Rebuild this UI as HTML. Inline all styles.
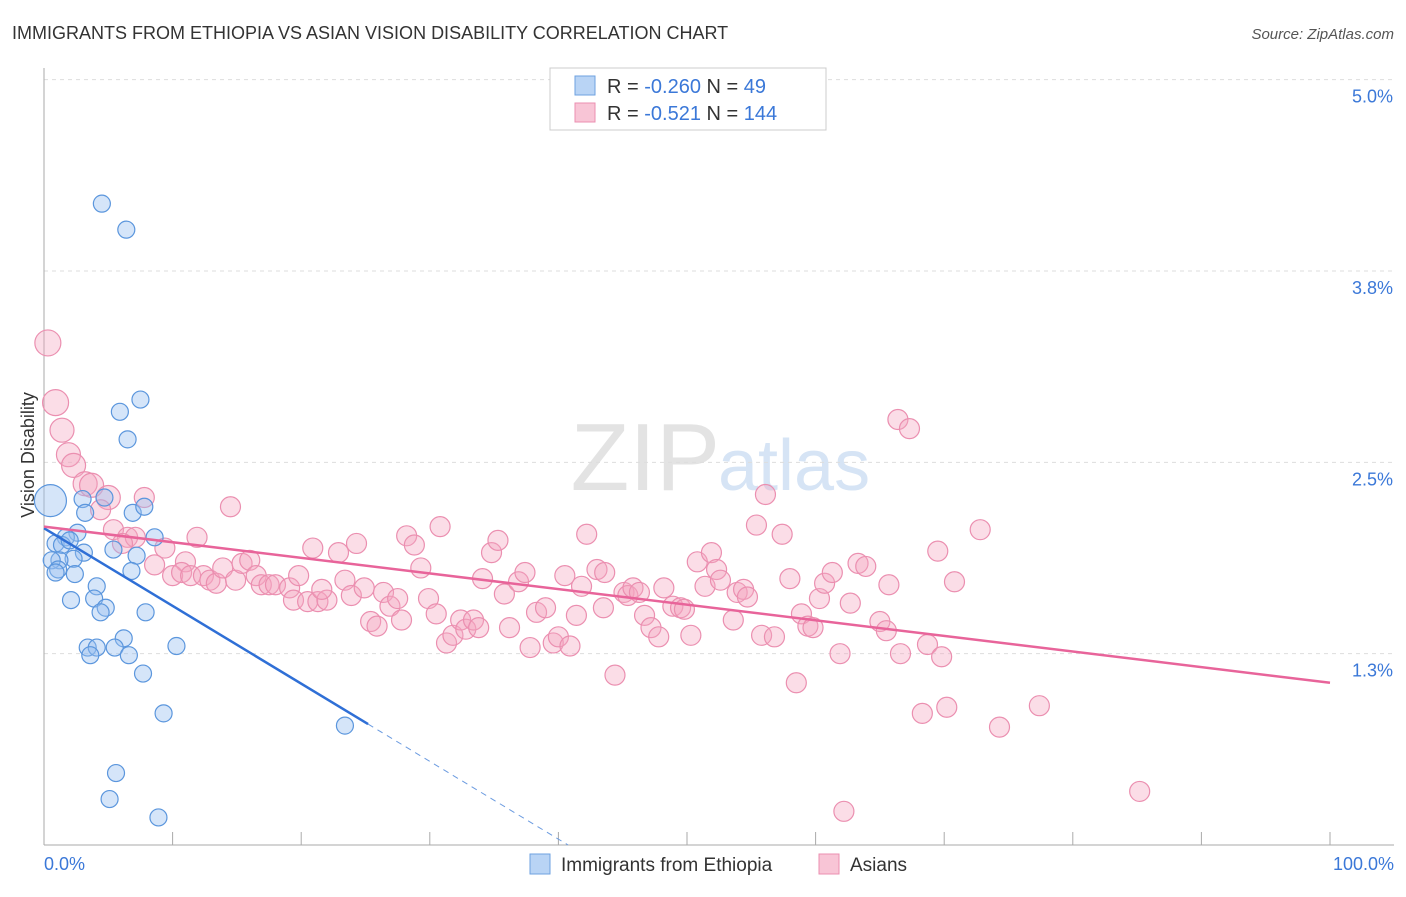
<!DOCTYPE html>
<html><head><meta charset="utf-8"><style>
body{margin:0;background:#fff;font-family:"Liberation Sans",sans-serif}
svg text{font-family:"Liberation Sans",sans-serif}
</style></head><body>
<svg id="c" width="1406" height="892" xmlns="http://www.w3.org/2000/svg">
<text x="12" y="39" font-size="18" fill="#333">IMMIGRANTS FROM ETHIOPIA VS ASIAN VISION DISABILITY CORRELATION CHART</text>
<text x="1394" y="39" font-size="15" fill="#555" font-style="italic" text-anchor="end">Source: ZipAtlas.com</text>
<text x="720" y="490" font-size="96" fill="#e3e3e3" text-anchor="end" font-family="Liberation Serif">ZIP</text>
<text x="718" y="490" font-size="72" fill="#d6e4f5">atlas</text>
<g id="grid"></g>
<g id="axes"></g>
<g id="pts"></g>
<g id="lines"></g>
<g>
<rect x="550" y="68" width="276" height="62" fill="#fff" stroke="#ccc"/>
<rect x="575" y="76" width="20" height="19" fill="#b9d4f5" stroke="#6ea2e0"/>
<rect x="575" y="103" width="20" height="19" fill="#f8c5d6" stroke="#eb8fb0"/>
<text x="607" y="93" font-size="20" fill="#333">R = <tspan fill="#3b78d8">-0.260</tspan>   N = <tspan fill="#3b78d8"> 49</tspan></text>
<text x="607" y="120" font-size="20" fill="#333">R =  <tspan fill="#3b78d8">-0.521</tspan>   N = <tspan fill="#3b78d8">144</tspan></text>
</g>
<g>
<rect x="530" y="854" width="20" height="20" fill="#b9d4f5" stroke="#6ea2e0"/>
<text x="561" y="871" font-size="19" fill="#333">Immigrants from Ethiopia</text>
<rect x="819" y="854" width="20" height="20" fill="#f8c5d6" stroke="#eb8fb0"/>
<text x="850" y="871" font-size="19" fill="#333">Asians</text>
</g>
<text transform="translate(34,455) rotate(-90)" font-size="18" fill="#333" text-anchor="middle">Vision Disability</text>
</svg>
<script>
const yTicks=[1.25,2.5,3.75,5.0];
const yTickLabels=["1.3%","2.5%","3.8%","5.0%"];
const xTickLabels=["0.0%","100.0%"];
const blueX=[4.5,6.4,7.5,5.9,6.5,0.5,3.0,4.7,3.2,6.9,7.8,2.6,1.7,0.9,1.4,2.0,8.6,5.4,3.1,7.2,2.3,1.2,0.6,1.1,0.9,2.4,6.8,4.1,2.1,3.9,4.8,4.4,7.9,6.2,3.4,4.1,5.5,3.6,6.6,10.3,7.7,9.3,23.4,5.6,5.1,8.9];
const blueY=[4.19,4.02,2.91,2.83,2.65,2.25,2.26,2.27,2.17,2.17,2.21,2.04,2.01,1.97,1.96,1.99,2.01,1.93,1.91,1.89,1.87,1.86,1.86,1.80,1.78,1.77,1.79,1.69,1.60,1.61,1.55,1.52,1.52,1.35,1.29,1.29,1.29,1.24,1.24,1.30,1.12,0.86,0.78,0.47,0.30,0.18];
const pinkX=[0.3,0.9,1.4,1.9,2.3,3.2,3.7,5.0,4.4,7.8,14.5,5.4,6.5,7.1,6.1,11.9,9.4,8.6,11.0,10.0,10.7,11.4,12.4,12.9,13.4,13.9,14.9,15.4,16.0,16.5,16.9,17.5,18.0,19.1,19.8,19.4,20.5,21.3,22.0,21.6,20.9,22.9,24.3,23.4,23.9,24.9,25.4,25.9,26.4,26.9,27.5,27.8,28.2,28.8,29.3,29.9,30.5,30.8,31.3,31.8,32.4,32.8,33.4,33.8,34.1,34.8,35.3,35.8,36.2,36.9,37.4,37.8,38.3,39.0,39.6,40.0,40.5,40.9,41.4,41.8,42.2,43.0,43.5,43.6,44.4,45.1,45.4,45.8,46.3,46.7,47.2,47.8,48.2,48.9,49.5,49.8,50.3,50.8,51.4,51.9,52.3,52.6,53.6,53.9,54.4,54.7,55.4,55.8,56.1,56.8,57.4,58.0,58.5,58.9,59.4,59.8,60.3,60.7,61.3,61.9,62.7,63.3,63.9,65.0,65.5,65.7,66.4,67.3,66.6,68.3,68.7,69.5,69.8,70.2,70.8,72.8,74.3,77.4,62.2,85.2];
const pinkY=[3.28,2.89,2.71,2.55,2.48,2.36,2.35,2.27,2.19,2.27,2.21,2.06,2.01,2.01,1.97,2.01,1.94,1.83,1.85,1.76,1.78,1.76,1.76,1.73,1.71,1.81,1.73,1.84,1.86,1.76,1.70,1.70,1.70,1.68,1.76,1.60,1.59,1.59,1.60,1.67,1.94,1.91,1.97,1.73,1.63,1.68,1.46,1.43,1.65,1.56,1.61,1.47,2.02,1.96,1.81,1.61,1.51,2.08,1.32,1.37,1.47,1.41,1.47,1.42,1.74,1.91,1.99,1.64,1.42,1.72,1.78,1.29,1.52,1.55,1.32,1.36,1.76,1.30,1.50,1.69,2.03,1.80,1.55,1.78,1.11,1.65,1.63,1.68,1.65,1.50,1.42,1.36,1.68,1.56,1.55,1.54,1.37,1.85,1.69,1.91,1.80,1.73,1.47,1.65,1.67,1.62,2.09,1.37,2.29,1.36,2.03,1.74,1.06,1.51,1.43,1.42,1.61,1.71,1.78,1.25,1.58,1.84,1.82,1.46,1.40,1.70,2.78,2.72,1.25,0.86,1.31,1.92,1.23,0.90,1.72,2.06,0.77,0.91,0.22,0.35];
const blueTrend=[2.07,0.79];
const pinkTrend=[2.08,1.06];
const NS="http://www.w3.org/2000/svg";
const X=v=>44+v*12.86, Y=v=>845-v*153.07;
function mk(t,a,p){const e=document.createElementNS(NS,t);for(const k in a)e.setAttribute(k,a[k]);p.appendChild(e);return e;}
const grid=document.getElementById('grid'),axes=document.getElementById('axes'),pts=document.getElementById('pts'),lines=document.getElementById('lines');
yTicks.forEach((t,i)=>{
 const l=mk('line',{x1:44,x2:1394,y1:Y(t),y2:Y(t),stroke:'#ddd','stroke-dasharray':'4,4'},grid);
 
 
 const tx=mk('text',{x:1393,y:Y(t)+23,'font-size':18,fill:'#3b78d8','text-anchor':'end'},axes);
 tx.textContent=yTickLabels[i];
 
 
});
const ax=mk('line',{x1:44,x2:44,y1:68,y2:845,stroke:'#aaa'},axes);


const bx=mk('line',{x1:44,x2:1394,y1:845,y2:845,stroke:'#aaa'},axes);


for(let i=0;i<=10;i++){
 const t=mk('line',{x1:X(i*10),x2:X(i*10),y1:845,y2:832,stroke:'#aaa'},axes);
 
 
}
[[0,'start',44],[1,'end',1394]].forEach(([i,a,x])=>{
 const t=mk('text',{x:x,y:870,'font-size':18,fill:'#3b78d8','text-anchor':a},axes);
 t.textContent=xTickLabels[i];
 
 
});
pinkX.forEach((x,i)=>{
 const r=i<8?(i<2?13:12):10;
 const c=mk('circle',{cx:X(x),cy:Y(pinkY[i]),r:r,fill:'rgba(245,165,192,0.38)',stroke:'#eb8fb0','stroke-width':1.2},pts);
 
 
});
blueX.forEach((x,i)=>{
 const r=i==5?16:8.5;
 const c=mk('circle',{cx:X(x),cy:Y(blueY[i]),r:r,fill:'rgba(150,190,240,0.4)',stroke:'#5b96dd','stroke-width':1.2},pts);
 
 
});
const bs=(blueTrend[1]-blueTrend[0])/25.2;
const b1=mk('line',{x1:X(0),y1:Y(blueTrend[0]),x2:X(25.2),y2:Y(blueTrend[1]),stroke:'#2f6fd6','stroke-width':2.5},lines);


const xe=-blueTrend[0]/bs;
const b2=mk('line',{x1:X(25.2),y1:Y(blueTrend[1]),x2:X(xe),y2:Y(0),stroke:'#6b9be0','stroke-width':1,'stroke-dasharray':'6,5'},lines);


const p1=mk('line',{x1:X(0),y1:Y(pinkTrend[0]),x2:X(100),y2:Y(pinkTrend[1]),stroke:'#e8649a','stroke-width':2.5},lines);


</script>
</body></html>
